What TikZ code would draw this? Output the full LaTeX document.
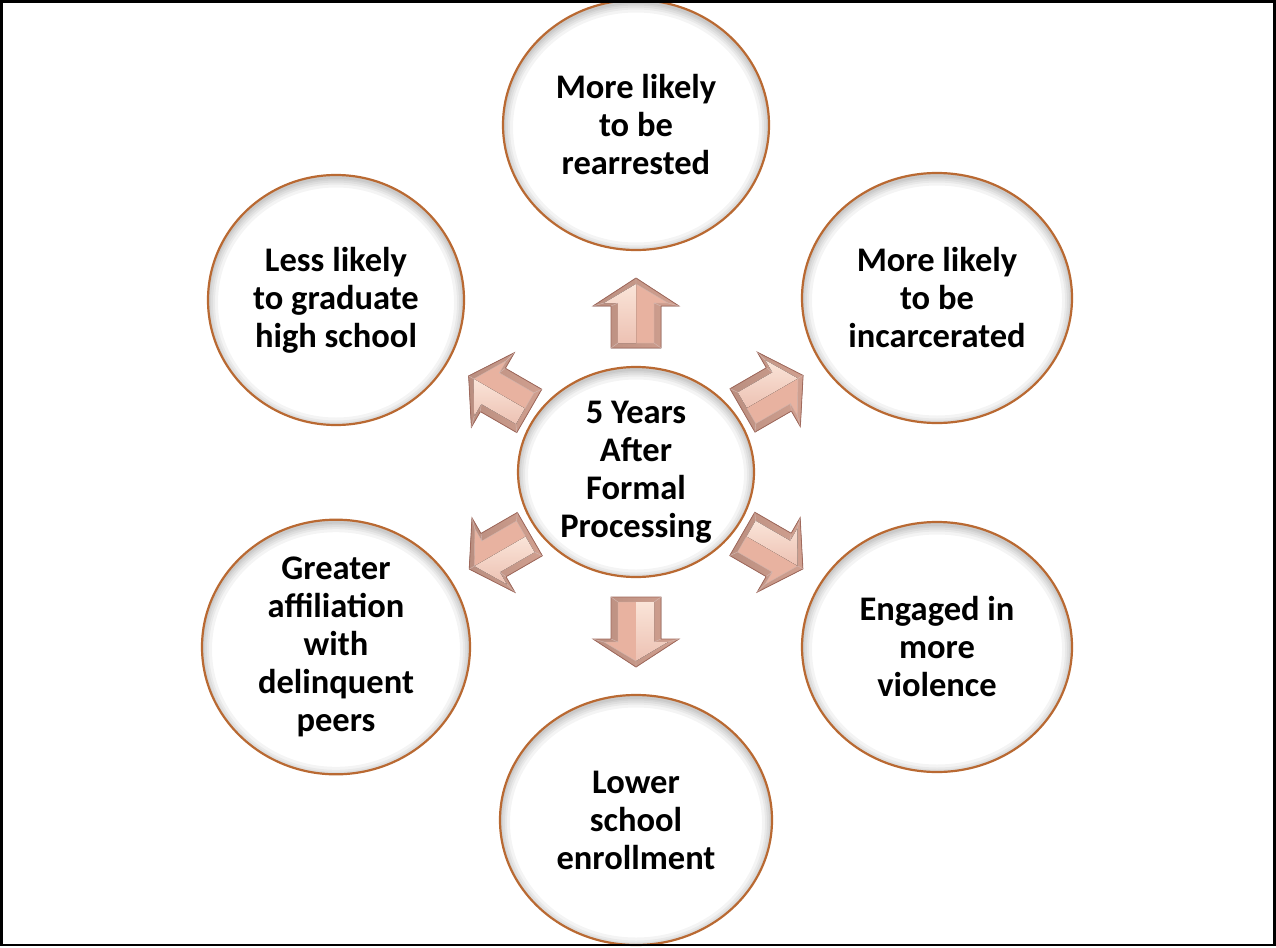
\documentclass[tikz,border=0pt]{standalone}
\usepackage{fontspec}
\setmainfont{Carlito}
\usetikzlibrary{shapes.geometric,calc}
\definecolor{rimcol}{RGB}{185,105,50}
\definecolor{arrdark}{RGB}{160,105,92}
\definecolor{arrmid}{RGB}{232,178,160}
\definecolor{arrlight}{RGB}{250,228,216}
\tikzset{
  bub/.style={ellipse, draw=rimcol, line width=2.2pt, fill=white,
    minimum width=266, minimum height=250, inner sep=0pt, align=center,
    font=\fontsize{34.5}{38}\selectfont\bfseries,
    path picture={
      \foreach \w in {3,6,10,14,20}{
        \draw[black, opacity=0.045, line width=\w pt]
          let \p1=($(path picture bounding box.north east)-(path picture bounding box.center)$) in
          ([yshift=-2.5pt]path picture bounding box.center) ellipse [x radius=\x1, y radius=\y1];
      }
    }},
  hub/.style={bub, minimum width=236, minimum height=210},
  barrow/.pic={
    \fill[left color=arrmid!80!black, right color=arrmid!90!black, draw=arrdark, line width=0.8pt]
      (-35,-25) -- (7,-25) -- (7,-43) -- (35,0) -- (7,43) -- (7,25) -- (-35,25) -- cycle;
    \fill[arrmid, draw=arrdark!50, line width=0.4pt]
      (-30,-18) -- (10,-18) -- (10,-32) -- (29,0) -- (10,32) -- (10,18) -- (-30,18) -- cycle;
    \fill[top color=arrlight, bottom color=arrmid!80!white] (-30,0) -- (29,0) -- (10,-32) -- (10,-18) -- (-30,-18) -- cycle;
    \draw[arrdark!45, line width=0.4pt] (-35,-25) -- (-30,-18) (-35,25) -- (-30,18)
      (35,0) -- (29,0) (7,-43) -- (10,-32) (7,43) -- (10,32) (7,-25) -- (10,-18) (7,25) -- (10,18);
  }
}
\begin{document}
\begin{tikzpicture}[x=1pt, y=-1pt]
\useasboundingbox (0,0) rectangle (1276,947);
\clip (0,0) rectangle (1276,947);
\fill[white] (0,0) rectangle (1276,947);
\node[hub] (c) at (636,472) {5 Years\\After\\Formal\\Processing};
\node[bub] (t) at (636,125) {More likely\\to be\\rearrested};
\node[bub, minimum width=270] (tr) at (937,298) {More likely\\to be\\incarcerated};
\node[bub, minimum width=256] (tl) at (336,300) {Less likely\\to graduate\\high school};
\node[bub, minimum width=268] (bl) at (336,647) {Greater\\affiliation\\with\\delinquent\\peers};
\node[bub, minimum width=270] (br) at (937,647) {Engaged in\\more\\violence};
\node[bub, minimum width=272] (b) at (636,820) {Lower\\school\\enrollment};
\path ($(c)!159pt!(t)$) pic[rotate=90] {barrow};
\path ($(c)!160pt!(b)$) pic[rotate=-90] {barrow};
\path ($(c)!158pt!(tr)$) pic[rotate=30] {barrow};
\path ($(c)!158pt!(br)$) pic[rotate=-30] {barrow};
\path ($(c)!158pt!(tl)$) pic[rotate=150] {barrow};
\path ($(c)!158pt!(bl)$) pic[rotate=210] {barrow};
\draw[line width=2.5pt] (1.5,1.5) rectangle (1274.5,945);
\end{tikzpicture}
\end{document}
